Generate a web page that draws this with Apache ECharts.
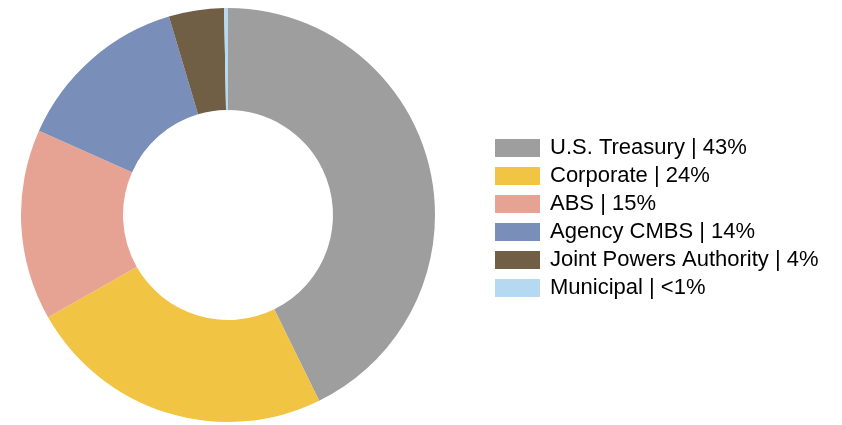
<!DOCTYPE html>
<html>
<head>
<meta charset="utf-8">
<script src="https://cdn.jsdelivr.net/npm/echarts@6/dist/echarts.min.js"></script>
<style>html,body{margin:0;padding:0;background:#fff;}#c{width:842px;height:425px;}</style>
</head>
<body>
<div id="c"></div>
<script>
var categories = ["U.S. Treasury", "Corporate", "ABS", "Agency CMBS", "Joint Powers Authority", "Municipal"];
var values = [42.7, 24.0, 14.9, 13.7, 4.3, 0.3];
var pctLabels = ["43%", "24%", "15%", "14%", "4%", "<1%"];
var colors = ["#9e9e9e", "#f2c443", "#e6a394", "#7a8eba", "#705e45", "#b4d9f0"];

var chart = echarts.init(document.getElementById('c'), null, {renderer: 'canvas'});
chart.setOption({
  animation: false,
  color: colors,
  legend: {
    orient: 'vertical',
    left: 490,
    top: 132,
    itemWidth: 45,
    itemHeight: 18,
    itemGap: 6,
    icon: 'rect',
    selectedMode: false,
    textStyle: {fontFamily: 'Liberation Sans, Arial, sans-serif', fontSize: 22, color: '#000', padding: [0, 0, 0, 5]},
    formatter: function (name) {
      var i = categories.indexOf(name);
      return name + ' | ' + pctLabels[i];
    },
    data: categories
  },
  series: [{
    type: 'pie',
    center: [228, 215],
    radius: [105, 207],
    startAngle: 90,
    clockwise: true,
    label: {show: false},
    labelLine: {show: false},
    emphasis: {disabled: true},
    itemStyle: {borderWidth: 0},
    data: categories.map(function (c, i) { return {name: c, value: values[i]}; })
  }]
});
</script>
</body>
</html>
